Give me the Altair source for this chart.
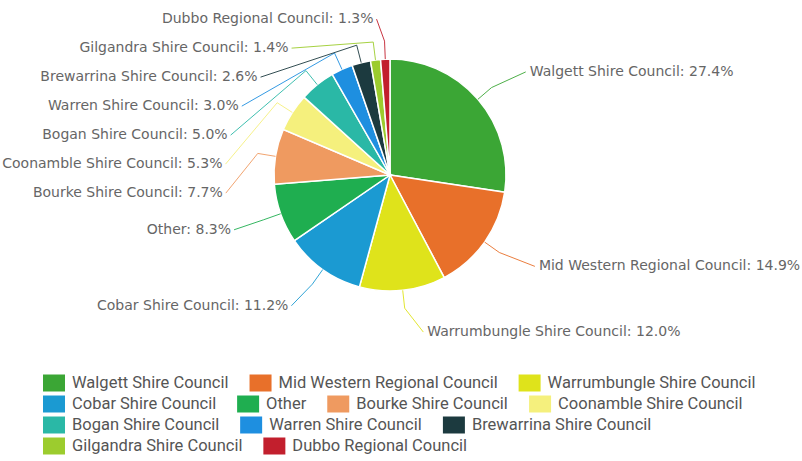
import math
import altair as alt
import pandas as pd

# ---------------- data ----------------
names = [
    "Walgett Shire Council", "Mid Western Regional Council", "Warrumbungle Shire Council",
    "Cobar Shire Council", "Other", "Bourke Shire Council", "Coonamble Shire Council",
    "Bogan Shire Council", "Warren Shire Council", "Brewarrina Shire Council",
    "Gilgandra Shire Council", "Dubbo Regional Council",
]
shares = [27.4, 14.9, 12.0, 11.2, 8.3, 7.7, 5.3, 5.0, 3.0, 2.6, 1.4, 1.3]
colors = [
    "#3ba635", "#e8702a", "#dfe31b", "#1b9ad2", "#1fae50", "#ef9a60",
    "#f5f07d", "#2ab8a6", "#1e8fe0", "#1c3a3f", "#9ccc2e", "#c21f2d",
]

# ---------------- layout constants ----------------
W, H = 802, 461
CX, CY, R_PIE = 390, 175, 116
R_ELBOW = 134
R_LABEL = 158
LABEL_STEP = 29

total = sum(shares)
cum = 0.0
mids = []
for v in shares:
    mids.append((cum + v / 2) / total * 2 * math.pi)
    cum += v

# natural label anchors
nat = []
for i, a in enumerate(mids):
    nat.append(dict(i=i, a=a, x=CX + R_LABEL * math.sin(a), y=CY - R_LABEL * math.cos(a),
                    side="L" if math.sin(a) < 0 else "R"))

# shift overlapping labels downward on each side
for side in ("L", "R"):
    items = sorted([n for n in nat if n["side"] == side], key=lambda n: n["y"])
    prev = -1e9
    for n in items:
        y = max(n["y"], prev + LABEL_STEP)
        if y > n["y"] + 0.5:
            dx = math.sqrt(max(R_LABEL ** 2 - (y - CY) ** 2, 0))
            n["x"] = CX - dx if side == "L" else CX + dx
        n["y"] = y
        prev = y

label_rows, line_rows = [], []
for n in nat:
    i, a = n["i"], n["a"]
    if n["side"] == "L":
        tx = n["x"] - 10
        px = tx + 3
        ly = n["y"] + 2
    else:
        tx = n["x"] + 20
        px = tx - 4
        ly = n["y"]
    label_rows.append(dict(name=names[i], text=f"{names[i]}: {shares[i]:.1f}%",
                           x=tx, y=ly, side=n["side"]))
    pts = [
        (CX + R_PIE * math.sin(a), CY - R_PIE * math.cos(a)),
        (CX + R_ELBOW * math.sin(a), CY - R_ELBOW * math.cos(a)),
        (px, ly),
    ]
    for k, (x, y) in enumerate(pts):
        line_rows.append(dict(name=names[i], pt=k, x=x, y=y))

# legend flow layout (Roboto advance widths, em)
ROBOTO = {" ": .248, "W": .887, "S": .593, "C": .652, "M": .872, "R": .616, "B": .622,
          "O": .688, "G": .682, "D": .655, "a": .530, "b": .560, "c": .523, "d": .563,
          "e": .529, "g": .560, "h": .551, "i": .243, "k": .507, "l": .243, "m": .876,
          "n": .552, "o": .570, "r": .338, "s": .516, "t": .327, "u": .551, "w": .751}
LEG_SIZE = 16.5


def text_width(s):
    return sum(ROBOTO.get(ch, .55) for ch in s) * LEG_SIZE


LEG_X0, LEG_Y0, LEG_ROW, LEG_MAXX = 43, 383, 21, 772
SQ_W, SQ_H, SQ_GAP, ITEM_GAP = 22, 17, 7, 21
leg_rows = []
x, row = LEG_X0, 0
for i, nm in enumerate(names):
    w = text_width(nm)
    if x + SQ_W + SQ_GAP + w > LEG_MAXX and x > LEG_X0:
        row += 1
        x = LEG_X0
    yc = LEG_Y0 + row * LEG_ROW
    leg_rows.append(dict(name=nm, x=x, x2=x + SQ_W, y=yc - SQ_H / 2, y2=yc + SQ_H / 2,
                         tx=x + SQ_W + SQ_GAP, ty=yc))
    x = x + SQ_W + SQ_GAP + w + ITEM_GAP

pie_df = pd.DataFrame(dict(name=names, value=shares, idx=list(range(len(names)))))
lab_df = pd.DataFrame(label_rows)
line_df = pd.DataFrame(line_rows)
leg_df = pd.DataFrame(leg_rows)

# ---------------- chart ----------------
xs = alt.Scale(domain=[0, W], range=[0, W], nice=False, zero=False)
ys = alt.Scale(domain=[0, H], range=[0, H], nice=False, zero=False)
cscale = alt.Scale(domain=names, range=colors)

pie = alt.Chart(pie_df).mark_arc(outerRadius=R_PIE, stroke="white", strokeWidth=1.5).encode(
    theta=alt.Theta("value:Q", stack=True),
    color=alt.Color("name:N", scale=cscale, legend=None),
    order=alt.Order("idx:Q"),
    x=alt.value(CX),
    y=alt.value(CY),
)

lines = alt.Chart(line_df).mark_line(strokeWidth=1, opacity=0.9).encode(
    x=alt.X("x:Q", scale=xs, axis=None),
    y=alt.Y("y:Q", scale=ys, axis=None),
    detail="name:N",
    order="pt:Q",
    color=alt.Color("name:N", scale=cscale, legend=None),
)

lab_common = dict(baseline="middle", font="DejaVu Sans", fontSize=14, color="#666666")
labels_left = alt.Chart(lab_df).transform_filter("datum.side == 'L'").mark_text(
    align="right", **lab_common).encode(
    x=alt.X("x:Q", scale=xs, axis=None), y=alt.Y("y:Q", scale=ys, axis=None), text="text:N")
labels_right = alt.Chart(lab_df).transform_filter("datum.side == 'R'").mark_text(
    align="left", **lab_common).encode(
    x=alt.X("x:Q", scale=xs, axis=None), y=alt.Y("y:Q", scale=ys, axis=None), text="text:N")

leg_sq = alt.Chart(leg_df).mark_rect().encode(
    x=alt.X("x:Q", scale=xs, axis=None), x2="x2:Q",
    y=alt.Y("y:Q", scale=ys, axis=None), y2="y2:Q",
    color=alt.Color("name:N", scale=cscale, legend=None),
)
leg_txt = alt.Chart(leg_df).mark_text(
    align="left", baseline="middle", font="Roboto", fontSize=LEG_SIZE,
    color="#555555").encode(
    x=alt.X("tx:Q", scale=xs, axis=None), y=alt.Y("ty:Q", scale=ys, axis=None), text="name:N")

chart = alt.layer(pie, lines, labels_left, labels_right, leg_sq, leg_txt).properties(
    width=W, height=H, padding=0, autosize=alt.AutoSizeParams(type="none"),
    background="white",
).configure_view(stroke=None)

chart.save("out.html", embed_options={"renderer": "svg", "actions": False})
